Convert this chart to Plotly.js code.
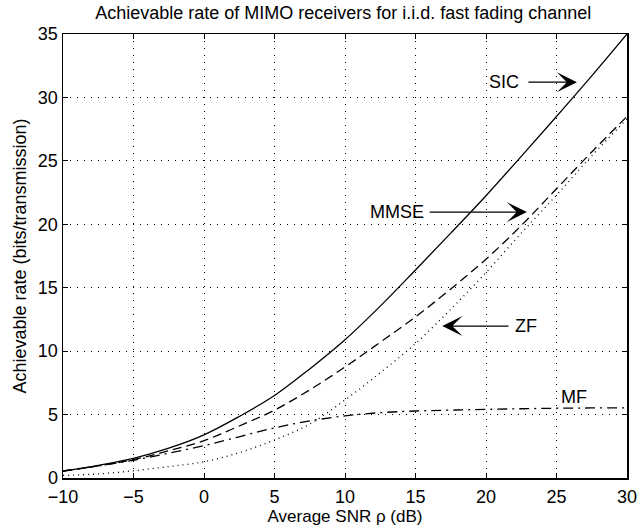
<!DOCTYPE html>
<html>
<head>
<meta charset="utf-8">
<script src="https://cdn.plot.ly/plotly-3.0.1.min.js"></script>
<style>html,body{margin:0;padding:0;background:#fff;}#chart{width:638px;height:526px;}</style>
</head>
<body>
<div id="chart"></div>
<script>
const snr = [-10, -7.5, -5, -2.5, 0, 2.5, 5, 7.5, 10, 12.5, 15, 17.5, 20, 22.5, 25, 27.5, 30];
const sic = [0.55, 1.0, 1.55, 2.35, 3.4, 4.85, 6.5, 8.6, 10.9, 13.55, 16.4, 19.3, 22.25, 25.35, 28.5, 31.7, 35.0];
const mmse = [0.55, 0.95, 1.45, 2.15, 2.95, 4.1, 5.35, 6.95, 8.75, 10.7, 12.7, 14.9, 17.25, 19.9, 22.8, 25.7, 28.5];
const zf = [0.2, 0.32, 0.57, 0.9, 1.28, 2.0, 3.0, 4.25, 6.15, 8.3, 10.6, 13.3, 16.2, 19.3, 22.3, 25.4, 28.3];
const mf = [0.55, 0.95, 1.4, 1.95, 2.55, 3.25, 3.95, 4.5, 4.9, 5.15, 5.28, 5.35, 5.41, 5.46, 5.5, 5.52, 5.53];

const FONT = 'Liberation Sans, Arial, Helvetica, sans-serif';
const lw = 1.3;
const sm = 1.0;

const traces = [
  {x: snr, y: sic, name: 'SIC', mode: 'lines', line: {color: '#000', width: lw, shape: 'spline', smoothing: sm}},
  {x: snr, y: mmse, name: 'MMSE', mode: 'lines', line: {color: '#000', width: lw, dash: '9px,5px', shape: 'spline', smoothing: sm}},
  {x: snr, y: zf, name: 'ZF', mode: 'lines', line: {color: '#000', width: lw, dash: '1px,4px', shape: 'spline', smoothing: sm}},
  {x: snr, y: mf, name: 'MF', mode: 'lines', line: {color: '#000', width: lw, dash: '10px,5px,2px,5px', shape: 'spline', smoothing: sm}}
];

const arrowCommon = {text: '', showarrow: true, arrowhead: 3, arrowsize: 2.8, arrowwidth: 1.2, arrowcolor: '#000',
  xref: 'x', yref: 'y', axref: 'x', ayref: 'y', standoff: 0, startstandoff: 0};
const textCommon = {showarrow: false, xref: 'x', yref: 'y', font: {family: FONT, size: 18, color: '#000'}};

const layout = {
  width: 638, height: 526,
  margin: {l: 63, r: 11, t: 34, b: 48},
  paper_bgcolor: '#fff', plot_bgcolor: '#fff',
  showlegend: false,
  font: {family: FONT, size: 18, color: '#000'},
  title: {text: 'Achievable rate of MIMO receivers for i.i.d. fast fading channel',
          font: {family: FONT, size: 18, color: '#000'}, x: 0.538, xanchor: 'center', y: 0.976, yanchor: 'middle'},
  xaxis: {
    range: [-10, 30], dtick: 5, tick0: 0,
    showline: true, linecolor: '#000', linewidth: 1.5, mirror: 'ticks',
    ticks: 'inside', ticklen: 5, tickcolor: '#000', tickwidth: 1,
    showgrid: true, gridcolor: '#000', gridwidth: 1, griddash: '1px,6px',
    zeroline: false, ticklabelstandoff: 2,
    tickfont: {family: FONT, size: 18, color: '#000'},
    title: {text: 'Average SNR \u03c1 (dB)', font: {family: FONT, size: 17, color: '#000'}, standoff: 1}
  },
  yaxis: {
    range: [0, 35], dtick: 5, tick0: 0,
    showline: true, linecolor: '#000', linewidth: 1.5, mirror: 'ticks',
    ticks: 'inside', ticklen: 5, tickcolor: '#000', tickwidth: 1,
    showgrid: true, gridcolor: '#000', gridwidth: 1, griddash: '1px,6px',
    zeroline: false,
    tickfont: {family: FONT, size: 18, color: '#000'},
    title: {text: 'Achievable rate (bits/transmission)', font: {family: FONT, size: 18, color: '#000'}, standoff: 6}
  },
  annotations: [
    Object.assign({}, arrowCommon, {x: 26.45, y: 31.2, ax: 22.9, ay: 31.2}),
    Object.assign({}, textCommon, {x: 22.5, y: 31.2, text: 'SIC', xanchor: 'right'}),
    Object.assign({}, arrowCommon, {x: 22.9, y: 20.96, ax: 15.9, ay: 20.96}),
    Object.assign({}, textCommon, {x: 15.75, y: 20.96, text: 'MMSE', xanchor: 'right'}),
    Object.assign({}, arrowCommon, {x: 16.9, y: 11.98, ax: 21.7, ay: 11.98}),
    Object.assign({}, textCommon, {x: 21.9, y: 11.98, text: 'ZF', xanchor: 'left'}),
    Object.assign({}, textCommon, {x: 25.2, y: 6.38, text: 'MF', xanchor: 'left'})
  ]
};

Plotly.newPlot('chart', traces, layout, {displayModeBar: false, staticPlot: true});
</script>
</body>
</html>
